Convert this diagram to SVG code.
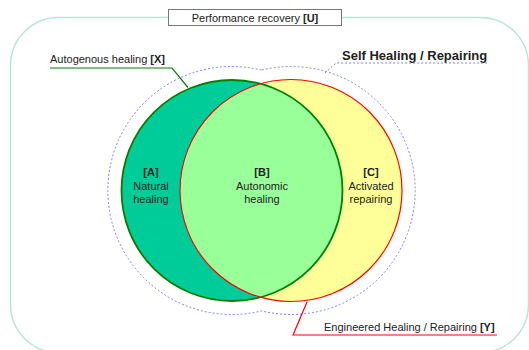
<svg xmlns="http://www.w3.org/2000/svg" width="529" height="350" viewBox="0 0 529 350">
  <style>
    text { font-family: "Liberation Sans", Arial, sans-serif; fill: #222; }
    .lbl { font-size: 11px; text-anchor: middle; }
    .cap { font-size: 11px; }
    .b { font-weight: bold; }
  </style>
  <defs>
    <clipPath id="clipGreen">
      <circle cx="232" cy="190.5" r="110.5"/>
    </clipPath>
  </defs>

  <!-- outer frame -->
  <g id="frame">
    <rect x="10.5" y="17.5" width="518" height="335" rx="48" ry="48" fill="none" stroke="#b5e8d5" stroke-width="1.5"/>
  </g>

  <!-- title -->
  <g id="title">
    <rect x="168.5" y="9.5" width="173" height="16" fill="#fff" stroke="#777" stroke-width="1"/>
    <text class="cap" x="255" y="21.5" text-anchor="middle">Performance recovery <tspan class="b">[U]</tspan></text>
  </g>

  <!-- self healing envelope -->
  <g id="envelope">
    <path d="M261.5,70.1 A124,124 0 1,0 261.5,310.9 A124,124 0 1,0 261.5,70.1 Z" fill="none" stroke="#7f7fff" stroke-width="1" stroke-dasharray="2,2"/>
    <text x="342" y="60" style="font-size:13px;font-weight:bold">Self Healing / Repairing</text>
  </g>

  <!-- circles -->
  <g id="circleX">
    <circle cx="232" cy="190.5" r="110.5" fill="#00cc99"/>
  </g>
  <g id="circleY">
    <circle cx="291" cy="190.5" r="111" fill="#ffff99"/>
  </g>
  <g id="overlap">
    <circle cx="291" cy="190.5" r="111" fill="#99ff99" clip-path="url(#clipGreen)"/>
  </g>
  <g id="outlines">
    <circle cx="232" cy="190.5" r="110.5" fill="none" stroke="#008000" stroke-width="1.8"/>
    <circle cx="291" cy="190.5" r="111" fill="none" stroke="#ff0000" stroke-width="1.2"/>
  </g>

  <!-- region labels -->
  <g id="regionA">
    <text class="lbl b" x="151" y="176">[A]</text>
    <text class="lbl" x="151" y="189.5">Natural</text>
    <text class="lbl" x="151" y="203">healing</text>
  </g>
  <g id="regionB">
    <text class="lbl b" x="262" y="176">[B]</text>
    <text class="lbl" x="262" y="189.5">Autonomic</text>
    <text class="lbl" x="262" y="203">healing</text>
  </g>
  <g id="regionC">
    <text class="lbl b" x="371" y="176">[C]</text>
    <text class="lbl" x="371" y="189.5">Activated</text>
    <text class="lbl" x="371" y="203">repairing</text>
  </g>

  <!-- leader lines -->
  <g id="connectors" fill="none">
    <polyline points="50,68 172,68 188,87.5" stroke="#008000" stroke-width="1.2"/>
    <polyline points="325,73 336,63 487,63" stroke="#7f7fff" stroke-width="1" stroke-dasharray="2,2"/>
    <polyline points="307,302 293,335 497,335" stroke="#ff0000" stroke-width="1.2"/>
  </g>

  <!-- callout texts -->
  <g id="labelX">
    <text class="cap" x="50" y="63">Autogenous healing <tspan class="b">[X]</tspan></text>
  </g>
  <g id="labelY">
    <text class="cap" x="324" y="331">Engineered Healing / Repairing <tspan class="b">[Y]</tspan></text>
  </g>
</svg>
